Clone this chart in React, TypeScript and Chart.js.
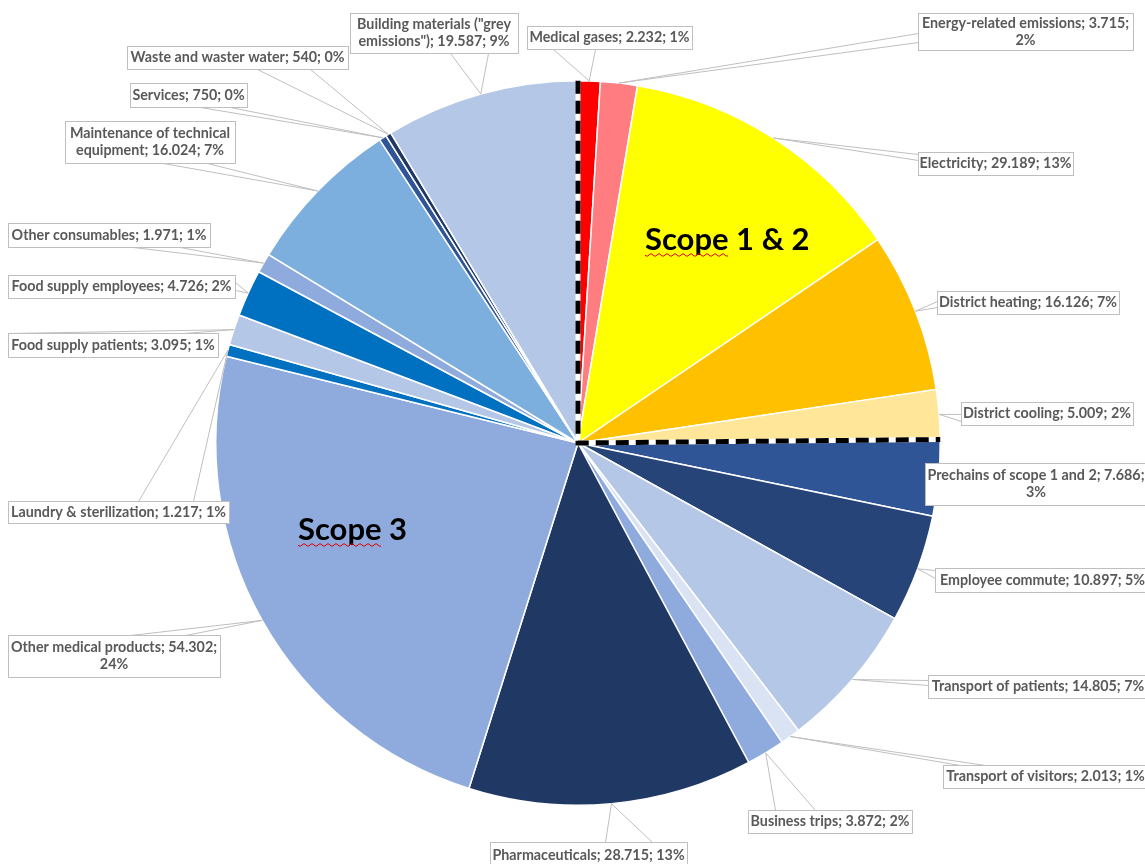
import React, { useEffect, useRef } from "react";
import { Chart, registerables } from "chart.js";

Chart.register(...registerables);

// ---------- data ----------
const categories = [
  "Medical gases",
  "Energy-related emissions",
  "Electricity",
  "District heating",
  "District cooling",
  "Prechains of scope 1 and 2",
  "Employee commute",
  "Transport of patients",
  "Transport of visitors",
  "Business trips",
  "Pharmaceuticals",
  "Other medical products",
  "Laundry & sterilization",
  "Food supply patients",
  "Food supply employees",
  "Other consumables",
  "Maintenance of technical equipment",
  "Services",
  "Waste and waster water",
  'Building materials ("grey emissions")',
];

const emissions = [
  2232, 3715, 29189, 16126, 5009, 7686, 10897, 14805, 2013, 3872, 28715, 54302,
  1217, 3095, 4726, 1971, 16024, 750, 540, 19587,
];

const scopeTitles = ["Scope 1 & 2", "Scope 3"];
const scope12SliceCount = 5;

// ---------- styles / layout ----------
const sliceColors = [
  "#FF0000",
  "#FF7C80",
  "#FFFF00",
  "#FFC000",
  "#FFE699",
  "#2F5597",
  "#264478",
  "#B4C7E7",
  "#DAE3F3",
  "#8FAADC",
  "#203864",
  "#8FAADC",
  "#0070C0",
  "#B4C7E7",
  "#0070C0",
  "#8FAADC",
  "#7CAFDD",
  "#2F5597",
  "#203864",
  "#B4C7E7",
];

// callout boxes [left, top, width, height]
const calloutBoxes = [
  [527, 26, 165, 23],
  [918, 13, 215, 37],
  [918, 152, 155, 23],
  [937, 291, 182, 23],
  [961, 402, 172, 23],
  [925, 463, 222, 42],
  [935, 568, 215, 24],
  [928, 675, 220, 23],
  [943, 765, 205, 23],
  [748, 810, 164, 23],
  [490, 842, 197, 26],
  [8, 635, 212, 42],
  [8, 501, 221, 22],
  [8, 333, 210, 24],
  [8, 275, 227, 23],
  [8, 223, 202, 24],
  [65, 121, 170, 42],
  [130, 83, 117, 24],
  [127, 46, 221, 23],
  [350, 13, 168, 40],
];

// number of words on the first line (0 = single line)
const calloutSplit = [0, 3, 0, 0, 0, 7, 0, 0, 0, 0, 0, 4, 0, 0, 0, 0, 3, 0, 0, 3];

// leader line end points on the boxes
const leaderEnds = [
  [[553, 49], [595, 49]],
  [[918, 33], [918, 42]],
  [[918, 154], [918, 160]],
  [[937, 301], [937, 307]],
  [[961, 414], [961, 421]],
  [[925, 480], [925, 486]],
  [[935, 570], [935, 578]],
  [[928, 680], [928, 685]],
  [[960, 765], [985, 765]],
  [[775, 810], [815, 810]],
  [[605, 842], [652, 842]],
  [[130, 635], [185, 635]],
  [[138, 501], [193, 501]],
  [[8, 333], [183, 333]],
  [[235, 282], [235, 290]],
  [[133, 247], [180, 247]],
  [[163, 163], [207, 163]],
  [[200, 107], [230, 107]],
  [[257, 69], [310, 69]],
  [[450, 53], [488, 53]],
];

const scopeTextPos = [
  [645, 250],
  [298, 540],
];

const LABEL_FONT = "bold 14.3px Lato, 'Open Sans', sans-serif";
const SCOPE_FONT = "bold 31px Lato, 'Open Sans', sans-serif";

function fmtDe(v: number): string {
  if (v < 1000) return String(v);
  const th = Math.floor(v / 1000);
  const rest = String(v % 1000).padStart(3, "0");
  return th + "." + rest;
}

const calloutPlugin = {
  id: "callouts",
  afterDatasetsDraw(chart: any) {
    const ctx: CanvasRenderingContext2D = chart.ctx;
    const meta = chart.getDatasetMeta(0);
    const values: number[] = chart.data.datasets[0].data;
    const total = values.reduce((a, b) => a + b, 0);
    const labels: string[] = chart.data.labels;

    ctx.save();
    // leader lines
    ctx.strokeStyle = "#BFBFBF";
    ctx.lineWidth = 1;
    meta.data.forEach((arc: any, i: number) => {
      const p = arc.getProps(["x", "y", "startAngle", "endAngle", "outerRadius"], true);
      const mid = (p.startAngle + p.endAngle) / 2;
      const ax = p.x + Math.cos(mid) * p.outerRadius;
      const ay = p.y + Math.sin(mid) * p.outerRadius;
      ctx.beginPath();
      leaderEnds[i].forEach((e) => {
        ctx.moveTo(ax, ay);
        ctx.lineTo(e[0] + 0.5, e[1] + 0.5);
      });
      ctx.stroke();
    });

    // boxes + text
    ctx.font = LABEL_FONT;
    ctx.textAlign = "center";
    ctx.textBaseline = "middle";
    values.forEach((v, i) => {
      const [bx, by, bw, bh] = calloutBoxes[i];
      ctx.fillStyle = "#FFFFFF";
      ctx.fillRect(bx, by, bw, bh);
      ctx.strokeStyle = "#BFBFBF";
      ctx.lineWidth = 1;
      ctx.strokeRect(bx + 0.5, by + 0.5, bw, bh);
      const pct = Math.round((v / total) * 100);
      const text = `${labels[i]}; ${fmtDe(v)}; ${pct}%`;
      const words = text.split(" ");
      const lines =
        calloutSplit[i] > 0
          ? [words.slice(0, calloutSplit[i]).join(" "), words.slice(calloutSplit[i]).join(" ")]
          : [text];
      const lh = 17;
      const cx = bx + bw / 2;
      const cy = by + bh / 2;
      ctx.fillStyle = "#595959";
      lines.forEach((ln, k) => {
        ctx.fillText(ln, cx, cy + (k - (lines.length - 1) / 2) * lh);
      });
    });

    // dashed scope boundary
    const first = meta.data[0].getProps(["x", "y", "startAngle", "outerRadius"], true);
    const last = meta.data[scope12SliceCount - 1].getProps(["endAngle"], true);
    const cx = first.x;
    const cy = first.y;
    const r = first.outerRadius;
    const path = () => {
      ctx.beginPath();
      ctx.moveTo(cx + Math.cos(first.startAngle) * r, cy + Math.sin(first.startAngle) * r);
      ctx.lineTo(cx, cy);
      ctx.lineTo(cx + Math.cos(last.endAngle) * r, cy + Math.sin(last.endAngle) * r);
    };
    ctx.lineJoin = "miter";
    ctx.lineCap = "butt";
    ctx.setLineDash([]);
    ctx.strokeStyle = "#FFFFFF";
    ctx.lineWidth = 5;
    path();
    ctx.stroke();
    ctx.setLineDash([13, 7]);
    ctx.strokeStyle = "#000000";
    path();
    ctx.stroke();
    ctx.setLineDash([]);

    // scope titles
    ctx.font = SCOPE_FONT;
    ctx.textAlign = "left";
    ctx.textBaseline = "alphabetic";
    scopeTitles.forEach((t, i) => {
      const [tx, ty] = scopeTextPos[i];
      ctx.fillStyle = "#000000";
      ctx.fillText(t, tx, ty);
      const w = ctx.measureText("Scope").width;
      ctx.strokeStyle = "#E00000";
      ctx.lineWidth = 1;
      ctx.beginPath();
      for (let s = 0; s <= w; s += 1) {
        const yy = ty + 5 + Math.sin((s / 4) * Math.PI) * 1.2;
        if (s === 0) ctx.moveTo(tx + s, yy);
        else ctx.lineTo(tx + s, yy);
      }
      ctx.stroke();
    });
    ctx.restore();
  },
};

export default function App() {
  const ref = useRef<HTMLCanvasElement>(null);
  useEffect(() => {
    const chart = new Chart(ref.current as HTMLCanvasElement, {
      type: "pie",
      data: {
        labels: categories,
        datasets: [
          {
            data: emissions,
            backgroundColor: sliceColors,
            borderColor: "#FFFFFF",
            borderWidth: 1.5,
          },
        ],
      },
      options: {
        responsive: false,
        animation: false,
        devicePixelRatio: 1,
        layout: { padding: { left: 215, right: 204, top: 80, bottom: 58 } },
        plugins: {
          legend: { display: false },
          tooltip: { enabled: false },
        },
      },
      plugins: [calloutPlugin],
    });
    return () => chart.destroy();
  }, []);
  return (
    <div style={{ position: "fixed", left: 0, top: 0, width: 1145, height: 864, background: "#fff" }}>
      <canvas ref={ref} width={1145} height={864} style={{ display: "block", width: 1145, height: 864 }} />
    </div>
  );
}
